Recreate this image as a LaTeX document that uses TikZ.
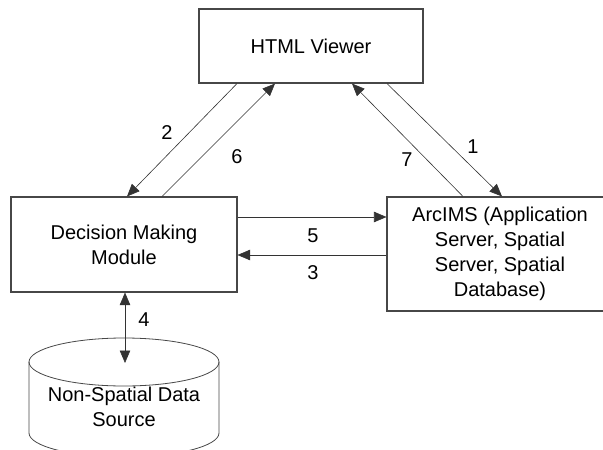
\documentclass[tikz,border=0pt]{standalone}
\usepackage{fontspec}
\setmainfont{Liberation Sans}
\usetikzlibrary{arrows.meta,calc}
\begin{document}
\begin{tikzpicture}[x=1pt,y=-1pt,
  every node/.style={font=\fontsize{20}{25}\selectfont, inner sep=0pt},
  block/.style={draw=black!72, line width=1.1pt, fill=white, align=center},
  tip/.style={Triangle[length=12.5pt,width=10.5pt]},
  flow/.style={draw=black!80, line width=0.6pt, -{Triangle[length=12.5pt,width=10.5pt]}},
  biflow/.style={draw=black!80, line width=0.6pt,
    {Triangle[length=12.5pt,width=10.5pt]}-{Triangle[length=12.5pt,width=10.5pt]}},
  num/.style={font=\fontsize{20}{24}\selectfont}]
\useasboundingbox (0,0) rectangle (603,450);
\clip (0,0) rectangle (603,450);

% components
\node[block, minimum width=224pt, minimum height=74pt] (hv) at (311,46) {HTML Viewer};
\node[block, minimum width=226pt, minimum height=95pt] (dm) at (124,244.5) {Decision Making\\Module};
\node[block, minimum width=226pt, minimum height=114pt] (ims) at (500,254)
  {ArcIMS (Application\\Server, Spatial\\Server, Spatial\\Database)};

% database cylinder
\draw[draw=black!72, line width=0.8pt, fill=white]
  (29,362) -- (29,433) arc[start angle=180, end angle=0, x radius=95, y radius=24] -- (219,362);
\draw[draw=black!72, line width=0.8pt] (124,362) ellipse[x radius=95, y radius=24];
\node[align=center] (src) at (124,407) {Non-Spatial Data\\Source};
\coordinate (srctop) at (125,363);

% message flows
\draw[flow] ([xshift=-74pt]hv.south) -- ([xshift=3pt]dm.north);
\draw[flow] ([xshift=38pt]dm.north) -- ([xshift=-36pt]hv.south);
\draw[flow] ([xshift=-37pt]ims.north) -- ([xshift=41pt]hv.south);
\draw[flow] ([xshift=76pt]hv.south) -- ([xshift=2pt]ims.north);
\draw[flow] ([yshift=27.5pt]dm.east) -- ([yshift=27.5pt]dm.east -| ims.west);
\draw[flow] ([yshift=-1pt]ims.west) -- ([yshift=-1pt]ims.west -| dm.east);
\draw[biflow] ([xshift=1pt]dm.south) -- (srctop);

% step numbers
\node[num] (n1) at (473,147) {1};
\node[num] (n2) at (167,133) {2};
\node[num] (n3) at (313,273) {3};
\node[num] (n4) at (144,320) {4};
\node[num] (n5) at (313,236) {5};
\node[num] (n6) at (237,157) {6};
\node[num] (n7) at (407,160) {7};
\end{tikzpicture}
\end{document}
